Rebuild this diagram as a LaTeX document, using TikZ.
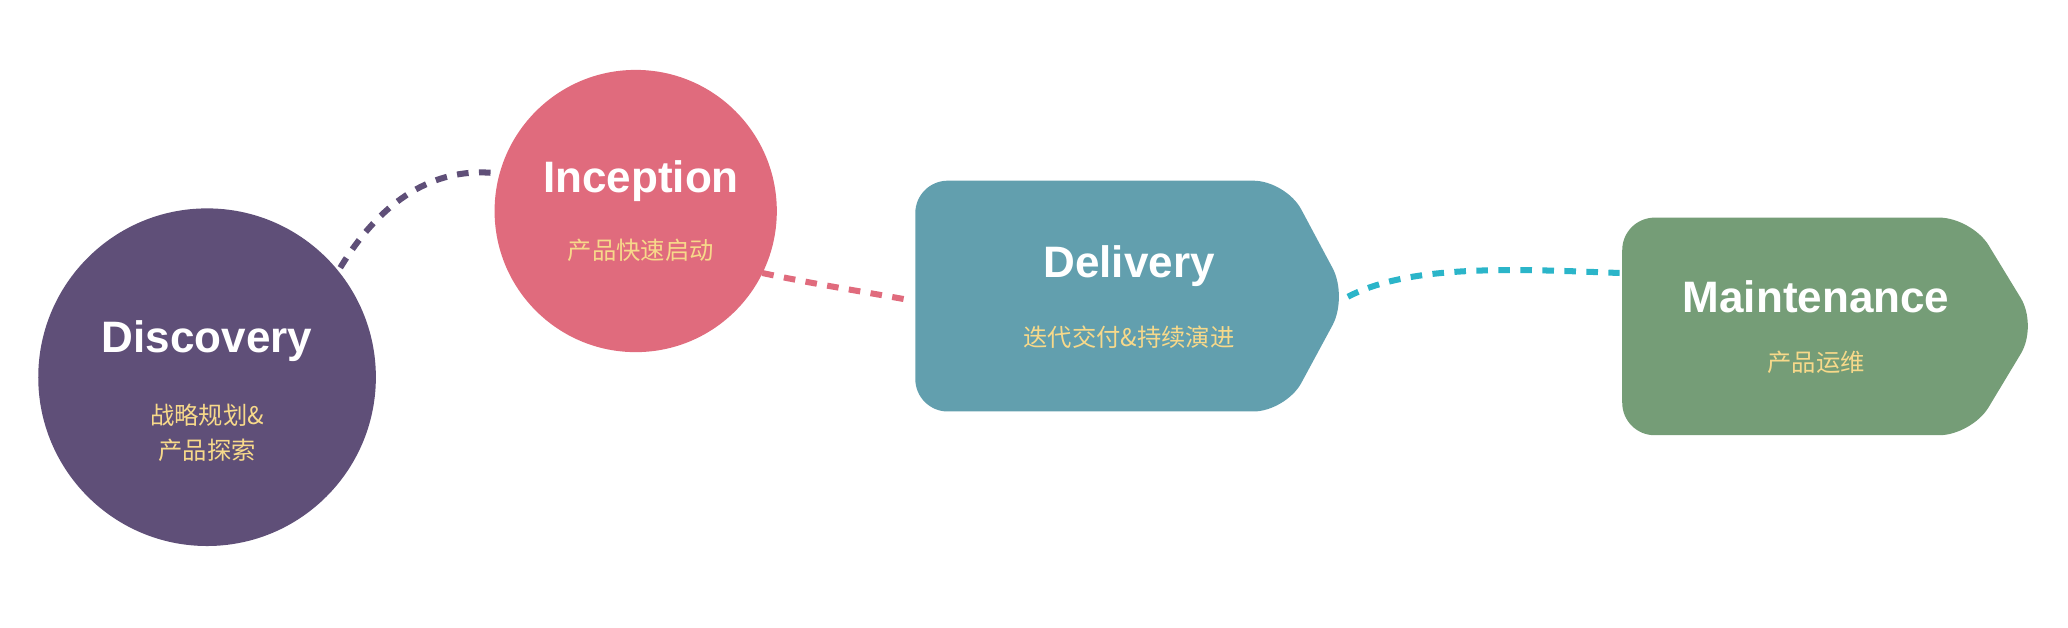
\documentclass[tikz,border=0pt]{standalone}
\usepackage{fontspec}
\setmainfont{Liberation Sans}
\newfontfamily\cjk{Noto Sans CJK SC}
\definecolor{disc}{HTML}{5F4F78}
\definecolor{incp}{HTML}{E06B7D}
\definecolor{deli}{HTML}{629FAE}
\definecolor{main}{HTML}{759D77}
\definecolor{cyanl}{HTML}{2BB5C9}
\definecolor{yel}{HTML}{F7D98A}
\begin{document}
\begin{tikzpicture}[x=0.02cm,y=-0.02cm,
  ttl/.style={text=white,font=\fontsize{19}{22}\selectfont\bfseries},
  sub/.style={text=yel,font=\fontsize{10.5}{15}\selectfont\cjk,align=center},
  conn/.style={line width=2.6pt,dash pattern=on 5pt off 4.5pt}]
\useasboundingbox (0,0) rectangle (1568,476);
\fill[disc] (157,286) circle (128);
\fill[incp] (482,160) circle (107);
\fill[deli,rounded corners=14pt] (694,137) -- (975,137) -- (1022,225) -- (975,312) -- (694,312) -- cycle;
\fill[main,rounded corners=14pt] (1230,165) -- (1495,165) -- (1545,247) -- (1495,330) -- (1230,330) -- cycle;
\node[ttl] (d) at (157,259) {Discovery};
\node[sub] (ds) at (157,328) {战略规划\&\\产品探索};
\node[ttl] (i) at (486,137) {Inception};
\node[sub] (is) at (486,190) {产品快速启动};
\node[ttl] (de) at (856,202) {Delivery};
\node[sub] (des) at (856,256) {迭代交付\&持续演进};
\node[ttl] (m) at (1377,225) {Maintenance};
\node[sub] (ms) at (1377,275) {产品运维};
\coordinate (a1) at (258,203);
\coordinate (a2) at (372,131);
\coordinate (b1) at (578,207);
\coordinate (b2) at (692,228);
\coordinate (c1) at (1022,225);
\coordinate (c2) at (1228,207);
\draw[conn,disc] (a1) .. controls (290,150) and (330,128) .. (a2);
\draw[conn,incp] (b1) .. controls (620,216) and (660,222) .. (b2);
\draw[conn,cyanl] (c1) .. controls (1070,200) and (1150,204) .. (c2);
\end{tikzpicture}
\end{document}
